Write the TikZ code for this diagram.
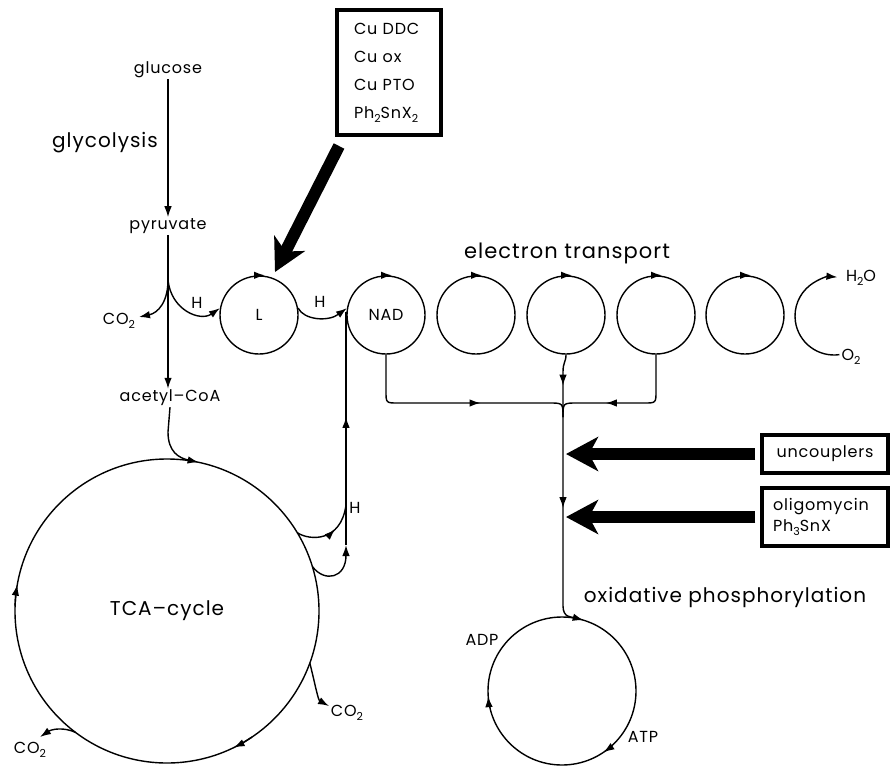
\documentclass[tikz,border=0pt]{standalone}
\usepackage{fontspec}
\setmainfont{Poppins}[LetterSpace=5]
\usetikzlibrary{arrows.meta,calc,decorations.markings}
\newcommand{\lowsub}[1]{\raisebox{-0.45ex}{\fontsize{11}{11}\selectfont #1}}
\begin{document}
\begin{tikzpicture}[x=1pt,y=-1pt,
  ln/.style={line width=1.4pt},
  arr/.style={-{Latex[length=11pt,width=7.5pt]}},
  marrow/.style={postaction={decorate},decoration={markings,mark=at position #1 with {\arrow{Latex[length=11pt,width=7.5pt]}}}},
  lbl/.style={font=\fontsize{16}{18}\selectfont, inner sep=1pt},
  bigtxt/.style={font=\fontsize{20}{22}\selectfont, inner sep=1pt},
  ring/.style={circle, draw, ln, inner sep=0pt, minimum size=78pt, font=\fontsize{16}{18}\selectfont},
  bigarrow/.style={line width=12pt, -{Stealth[length=32pt,width=34pt,inset=9pt]}},
  boxframe/.style={draw, line width=3.5pt, inner sep=0pt, font=\fontsize{16}{28}\selectfont}
]
\fill[white] (0,0) rectangle (893,768);
\useasboundingbox (0,0) rectangle (893,768);

% glycolysis column
\node[lbl] (glucose) at (168,70) {glucose};
\node[font=\fontsize{20}{22}\selectfont, inner sep=1pt] (glyco) at (105,143) {glycolysis};
\node[lbl] (pyruvate) at (168,226) {pyruvate};
\node[lbl] (acetyl) at (170,398) {acetyl\textendash CoA};
\node[lbl] (co2a) at (119,321) {CO\lowsub{2}};
\node[lbl] (h1) at (197,303) {H};
\node[lbl] (h2) at (320,302) {H};
\node[lbl] (h3) at (355,508) {H};

\draw[ln,arr] (glucose) -- (pyruvate);
\draw[ln,arr] (pyruvate.south) -- (pyruvate.south |- acetyl.north);
\coordinate (br) at (168,280);

% electron transport chain
\node[ring] (L) at (259,315) {L};
\node[ring] (NAD) at (386,315) {NAD};
\node[ring] (A) at (476,315) {};
\node[ring] (B) at (566,315) {};
\node[ring] (C) at (656,315) {};
\node[ring] (D) at (745,315) {};
\coordinate (pc) at (834,316);
\foreach \n in {L,NAD,A,B,C,D}
  \draw[ln,arr] ([xshift=-3pt]\n.north) -- ([xshift=6pt]\n.north);
\draw[ln,arr] ($(pc)+(82:39)$) arc[start angle=82,end angle=275,radius=39];
\node[lbl] (h2o) at (861,278) {H\lowsub{2}O};
\node[lbl] (o2) at (851,357) {O\lowsub{2}};
\node[bigtxt, font=\fontsize{21}{22}\selectfont] (et) at (567,253) {electron transport};

\draw[ln,arr] (br) .. controls (168,302) and (158,313) .. (139,317);
\draw[ln,arr] (br) .. controls (171,310) and (200,322) .. (L.170);
\draw[ln,arr] (L.10) .. controls (304,320) and (328,322) .. (NAD.170);

% TCA cycle
\node[circle, draw, ln, inner sep=0pt, minimum size=304pt, font=\fontsize{20}{22}\selectfont] (TCA) at (167,611) {TCA\textendash cycle};
\draw[ln,arr] ($(TCA.center)+(182:152)$) arc[start angle=182,end angle=190,radius=152];
\draw[ln,arr] ($(TCA.center)+(56:152)$) arc[start angle=56,end angle=64,radius=152];
\draw[ln,arr] (acetyl.south) -- (168,432) .. controls (168,452) and (179,458) .. ($(TCA.center)+(282:152)$);
\node[lbl] (co2b) at (347,713) {CO\lowsub{2}};
\node[lbl] (co2c) at (30,750) {CO\lowsub{2}};
\draw[ln,arr] ($(TCA.center)+(20:152)$) .. controls (316,688) and (318,700) .. (329,706);
\draw[ln,arr] ($(TCA.center)+(127:152)$) .. controls (64,727) and (52,729) .. (40,737);

% H from TCA to NAD
\coordinate (vbot) at (346,545);
\coordinate (vtop) at (346,312);
\draw[ln,marrow=0.55] (vbot) -- (vtop);
\draw[ln,marrow=0.6] ($(TCA.center)+(329:152)$) .. controls (310,541) and (341,542) .. (346,505);
\draw[ln,arr] ($(TCA.center)+(343:152)$) .. controls (325,583) and (346,578) .. (vbot);

% collection to oxidative phosphorylation
\coordinate (J) at (563,417);
\draw[ln,marrow=0.6] (NAD.south) -- (386,391) .. controls (386,403) .. (398,403) -- (549,403) .. controls (563,403) .. (J);
\draw[ln,marrow=0.64] (C.south) -- (656,391) .. controls (656,403) .. (644,403) -- (577,403) .. controls (563,403) .. (J);
\draw[ln,marrow=0.5] (B.south) .. controls (566,362) and (563,362) .. (563,372) -- (J);

\node[circle, draw, ln, inner sep=0pt, minimum size=148pt] (ox) at (562,691) {};
\draw[ln,arr,marrow=0.42] (J) -- (563,606) .. controls (563,618) and (572,617) .. ($(ox.center)+(287:74)$);
\draw[ln,arr] ($(ox.center)+(167:74)$) arc[start angle=167,end angle=176,radius=74];
\draw[ln,arr] ($(ox.center)+(47:74)$) arc[start angle=47,end angle=56,radius=74];
\node[lbl] (adp) at (482,640) {ADP};
\node[lbl] (atp) at (643,737) {ATP};
\node[bigtxt] (oxp) at (725,597) {oxidative phosphorylation};

% inhibitor boxes
\node[boxframe, minimum width=104pt, minimum height=125pt, text width=70pt, inner xsep=17pt, align=left] (cubox) at (389,72.5)
  {Cu DDC\\Cu ox\\Cu PTO\\Ph\lowsub{2}SnX\lowsub{2}};
\node[boxframe, minimum width=126pt, minimum height=38pt] (unc) at (825,454) {uncouplers};
\node[boxframe, minimum width=126pt, minimum height=58pt, text width=104pt, inner xsep=11pt, align=left, font=\fontsize{16}{21}\selectfont] (oli) at (825,517)
  {oligomycin\\Ph\lowsub{3}SnX};

\coordinate (ta) at (339,146);
\coordinate (tb) at (275,272);
\coordinate (tipx) at (571,0);
\draw[bigarrow] (ta) -- (tb);
\draw[bigarrow] ([xshift=-5pt]unc.west) -- ([xshift=-5pt]unc.west -| tipx);
\draw[bigarrow] ([xshift=-5pt]oli.west) -- ([xshift=-5pt]oli.west -| tipx);
\end{tikzpicture}
\end{document}
